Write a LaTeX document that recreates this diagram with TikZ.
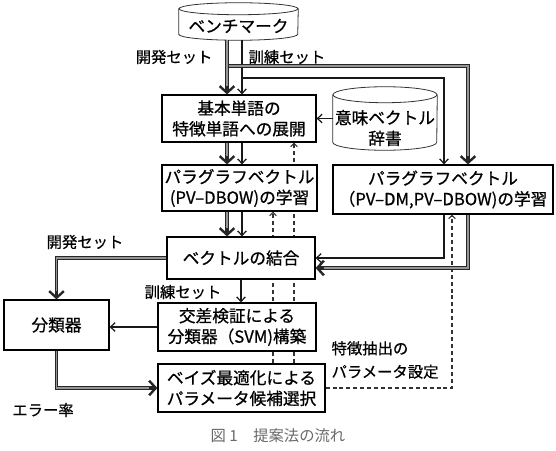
\documentclass[tikz,border=0pt]{standalone}
\usepackage{fontspec}
\setmainfont{Noto Sans CJK JP}[FakeBold=0.7]
\newfontfamily\captionfont{Noto Sans CJK JP}
\usetikzlibrary{arrows.meta,calc,backgrounds}
\definecolor{devcore}{RGB}{150,150,150}
\definecolor{captiongray}{RGB}{105,105,105}
\tikzset{
  flow box/.style={draw=black,line width=0.9pt,fill=white,align=center,inner sep=1pt,font=\fontsize{12.5}{15.5}\selectfont},
  flow db/.style={align=center,inner sep=0pt,font=\fontsize{12.5}{15.5}\selectfont},
  flow db line/.style={draw=black!80,line width=0.6pt},
  flow dev/.style={draw=black!85,line width=2.8pt,-{Straight Barb[length=5pt,width=11pt,line width=1.8pt]},
    postaction={draw=devcore,line width=1.1pt,-,shorten >=6pt}},
  flow train/.style={draw=black!90,line width=0.9pt,-{Straight Barb[length=3.5pt,width=6.5pt]}},
  flow param/.style={draw=black!80,line width=0.8pt,dash pattern=on 3pt off 2.2pt,-{Straight Barb[length=2.5pt,width=5pt]}},
  flow note/.style={inner sep=1pt,font=\fontsize{11.5}{17.5}\selectfont},
  flow caption/.style={inner sep=1pt,text=captiongray,font=\captionfont\fontsize{11.5}{14}\selectfont}
}

\begin{document}
\begin{tikzpicture}[x=0.75pt,y=-0.75pt]
  \useasboundingbox (0,0) rectangle (556,450);
  % columns and rows of the connectors
  \coordinate (colA) at (227,0);
  \coordinate (colB) at (242,0);
  \coordinate (colC) at (444,0);
  \coordinate (colD) at (468,0);
  \coordinate (colE) at (273,0);
  \coordinate (colF) at (294,0);
  \coordinate (colG) at (452,0);
  \coordinate (rowD) at (0,268);
  \coordinate (devsplit) at (227,66);
  \coordinate (trainsplit) at (242,78);

  % data bases
  \node[flow db,minimum width=89.25pt,minimum height=21pt] (bench) at (238.5,26) {ベンチマーク};
  \draw[flow db line] ($(bench.north west)+(0,-3)$) -- ($(bench.south west)+(0,-6)$)
    arc[start angle=180,end angle=0,x radius=59.5,y radius=6] -- ($(bench.north east)+(0,-3)$);
  \draw[flow db line] ($(bench.north)+(0,-3)$) ellipse[x radius=59.5,y radius=6];

  \node[flow db,minimum width=78pt,minimum height=33pt] (dict) at (385,128) {意味ベクトル\\辞書};
  \draw[flow db line] ($(dict.north west)+(0,-11)$) -- ($(dict.south west)+(0,-8)$)
    arc[start angle=180,end angle=0,x radius=52,y radius=8] -- ($(dict.north east)+(0,-11)$);
  \draw[flow db line] ($(dict.north)+(0,-11)$) ellipse[x radius=52,y radius=8];

  % process boxes
  \node[flow box,minimum width=115.5pt,minimum height=35.25pt] (expand) at (239,118.5) {基本単語の\\特徴単語への展開};
  \node[flow box,minimum width=116.25pt,minimum height=34.5pt] (pvdbow) at (239.5,188) {パラグラフベクトル\\(PV–DBOW)の学習};
  \node[flow box,minimum width=165pt,minimum height=36.75pt] (pvdm) at (443,189.5) {パラグラフベクトル\\（PV–DM,PV–DBOW)の学習};
  \node[flow box,minimum width=111pt,minimum height=31.5pt] (concat) at (241,258) {ベクトルの結合};
  \node[flow box,minimum width=118.5pt,minimum height=36pt] (svm) at (237,327) {交差検証による\\分類器（SVM)構築};
  \node[flow box,minimum width=125.25pt,minimum height=36pt] (bayes) at (241.5,388) {ベイズ最適化による\\パラメータ候補選択};
  \node[flow box,minimum width=78.75pt,minimum height=37.5pt] (clf) at (56.5,325) {分類器};

  % training set
  \draw[flow train] (trainsplit) -| (pvdm.north -| colC);
  \draw[flow train] (bench.south -| colB) -- (expand.north -| colB);
  \draw[flow train] (expand.south -| colB) -- (pvdbow.north -| colB);
  \draw[flow train] (pvdbow.south -| colB) -- (concat.north -| colB);
  \draw[flow train] (pvdm.south -| colC) |- (concat.east);
  \draw[flow train] (concat.south) -- (concat.south |- svm.north);
  \draw[flow train] (svm.west) -- (svm.west -| clf.east);
  \draw[flow train] (dict.west |- expand.east) -- (expand.east);

  % development set
  \draw[flow dev] (devsplit) -| (pvdm.north -| colD);
  \draw[flow dev] (bench.south -| colA) -- (expand.north -| colA);
  \draw[flow dev] (expand.south -| colA) -- (pvdbow.north -| colA);
  \draw[flow dev] (pvdbow.south -| colA) -- (concat.north -| colA);
  \draw[flow dev] (pvdm.south -| colD) |- (concat.east |- rowD);
  \draw[flow dev] (concat.west) -| (clf.north);
  \draw[flow dev] (clf.south) |- (bayes.west);

  % parameter feedback
  \begin{pgfonlayer}{background}
    \draw[flow param] (bayes.north -| colE) -- (pvdbow.south -| colE);
    \draw[flow param] (bayes.north -| colF) -- (expand.south -| colF);
    \draw[flow param] (bayes.east) -| (pvdm.south -| colG);
  \end{pgfonlayer}

  % labels
  \node[flow note,anchor=east] (devnote) at (214,57) {開発セット};
  \node[flow note,anchor=west] (trainnote) at (247,57) {訓練セット};
  \node[flow note] (devnote2) at (85,242) {開発セット};
  \node[flow note] (trainnote2) at (183,292) {訓練セット};
  \node[flow note] (errnote) at (43,410) {エラー率};
  \node[flow note,align=left,anchor=west] (paramnote) at (330,360) {特徴抽出の\\パラメータ設定};
  \node[flow caption] (caption) at (278,436) {図 1\quad 提案法の流れ};
\end{tikzpicture}
\end{document}
